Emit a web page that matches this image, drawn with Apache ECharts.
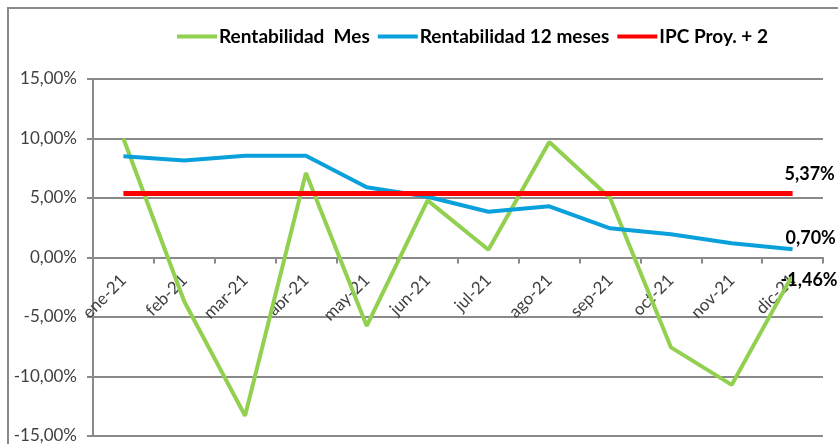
<!DOCTYPE html>
<html>
<head>
<meta charset="utf-8">
<script src="https://cdn.jsdelivr.net/npm/echarts@6/dist/echarts.min.js"></script>
<style>
  html, body { margin: 0; padding: 0; background: #fff; }
  #main { width: 838px; height: 444px; }
</style>
</head>
<body>
<div id="main"></div>
<script>
// datos
const meses = ['ene-21', 'feb-21', 'mar-21', 'abr-21', 'may-21', 'jun-21',
               'jul-21', 'ago-21', 'sep-21', 'oct-21', 'nov-21', 'dic-21'];
const rentMes = [10.0, -3.7, -13.3, 7.1, -5.75, 4.8, 0.65, 9.7, 5.0, -7.55, -10.7, -1.46];
const rent12 = [8.5, 8.15, 8.55, 8.55, 5.9, 5.1, 3.85, 4.3, 2.45, 1.95, 1.2, 0.70];
const ipcProy = [5.37, 5.37, 5.37, 5.37, 5.37, 5.37, 5.37, 5.37, 5.37, 5.37, 5.37, 5.37];
const yTicks = [-15, -10, -5, 0, 5, 10, 15];

const fuente = 'Lato, "Open Sans", sans-serif';
const gris = '#898989';

// geometria del grid, para llevar el eje x a la linea del cero
const gridTop = 79, gridBottom = 8, altoTotal = 444;
const yMin = yTicks[0], yMax = yTicks[yTicks.length - 1];
const altoGrid = altoTotal - gridTop - gridBottom;
const posCero = gridTop + altoGrid * yMax / (yMax - yMin);
const offsetEjeX = -((altoTotal - gridBottom) - posCero);

function pct(v) {
    return v.toFixed(2).replace('.', ',') + '%';
}

// etiqueta al final de la linea
function etiquetaFinal(offset) {
    return {
        show: true,
        offset: offset,
        formatter: function (p) { return pct(p.value); },
        fontFamily: fuente,
        fontWeight: 'bold',
        fontSize: 18,
        color: '#000'
    };
}

const myChart = echarts.init(document.getElementById('main'));
myChart.setOption({
    animation: false,
    graphic: [{
        type: 'rect',
        shape: { x: 8, y: 8, width: 850, height: 460 },
        style: { fill: 'none', stroke: gris, lineWidth: 2 },
        z: -1
    }],
    legend: {
        left: 177,
        top: 27,
        padding: 0,
        icon: 'rect',
        itemWidth: 40,
        itemHeight: 4,
        itemGap: 8,
        textStyle: { fontFamily: fuente, fontWeight: 'bold', fontSize: 19, color: '#000', padding: [0, 0, 0, -3] },
        data: ['Rentabilidad  Mes', 'Rentabilidad 12 meses', 'IPC Proy. + 2']
    },
    grid: { left: 93, right: 15, top: gridTop, bottom: gridBottom, outerBoundsMode: 'none' },
    xAxis: {
        type: 'category',
        data: meses,
        boundaryGap: true,
        offset: offsetEjeX,
        axisLine: { onZero: false, lineStyle: { color: gris, width: 2 } },
        axisTick: { show: true, interval: 0, length: 6, lineStyle: { color: gris, width: 2 } },
        axisLabel: {
            interval: 0,
            rotate: 45,
            margin: 20,
            fontFamily: fuente,
            fontSize: 17,
            color: '#404040'
        }
    },
    yAxis: {
        type: 'value',
        min: yMin,
        max: yMax,
        interval: 5,
        axisLine: { show: true, lineStyle: { color: gris, width: 2 } },
        axisTick: { show: true, length: 6, lineStyle: { color: gris, width: 2 } },
        splitLine: { lineStyle: { color: gris, width: 2 } },
        axisLabel: {
            margin: 16,
            fontFamily: fuente,
            fontSize: 17,
            color: '#404040',
            formatter: function (v) { return pct(v); }
        }
    },
    series: [
        {
            name: 'Rentabilidad  Mes',
            type: 'line',
            symbol: 'none',
            color: '#92D050',
            lineStyle: { width: 4 },
            z: 3,
            endLabel: etiquetaFinal([-20, 5]),
            data: rentMes
        },
        {
            name: 'Rentabilidad 12 meses',
            type: 'line',
            symbol: 'none',
            color: '#0AA0DC',
            lineStyle: { width: 4 },
            z: 4,
            endLabel: etiquetaFinal([-15, -11]),
            data: rent12
        },
        {
            name: 'IPC Proy. + 2',
            type: 'line',
            symbol: 'none',
            color: '#FF0000',
            lineStyle: { width: 5 },
            z: 5,
            endLabel: etiquetaFinal([-16, -19]),
            data: ipcProy
        }
    ]
});
window.onresize = function () {
    myChart.resize();
};
</script>
</body>
</html>
